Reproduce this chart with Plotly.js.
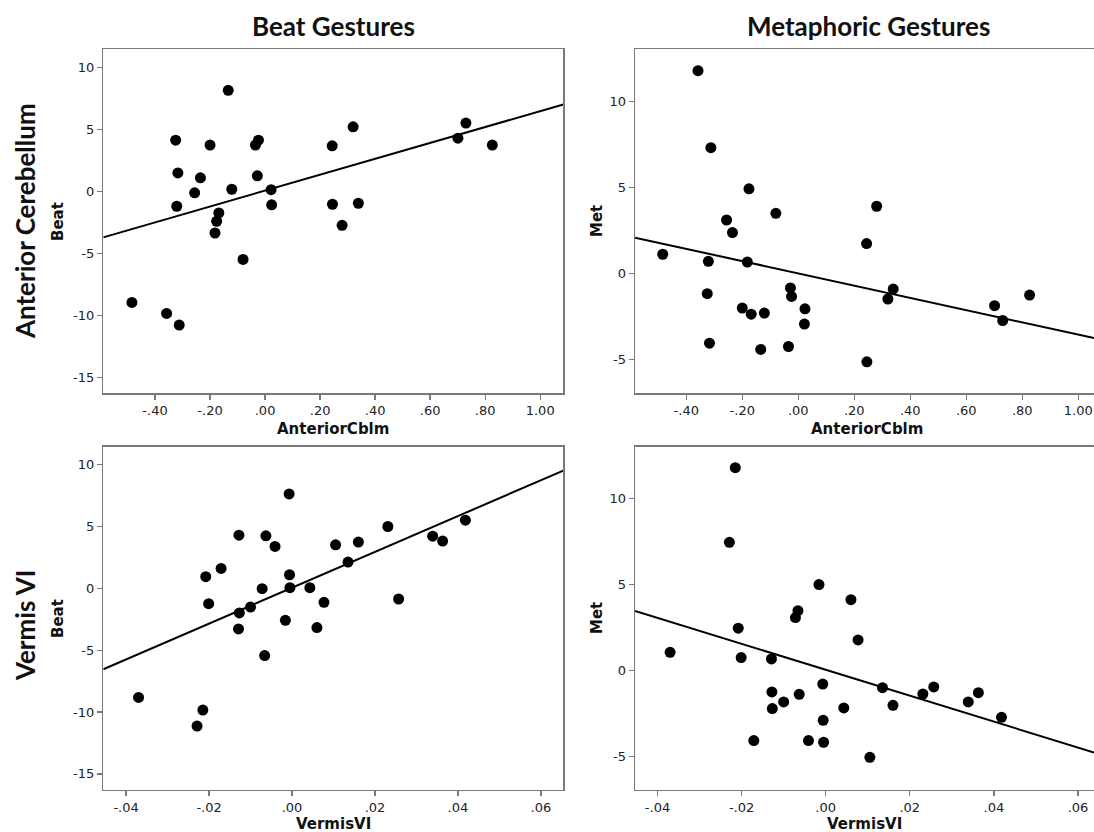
<!DOCTYPE html>
<html>
<head>
<meta charset="utf-8">
<script src="https://cdn.plot.ly/plotly-3.0.1.min.js"></script>
<style>html,body{margin:0;padding:0;background:#fff;}#chart{width:1094px;height:832px;}</style>
</head>
<body>
<div id="chart"></div>
<script>
// ---- data ----
const anteriorCblm = [-0.484,-0.358,-0.325,-0.321,-0.317,-0.312,-0.256,-0.235,-0.200,-0.182,-0.176,-0.168,-0.134,-0.121,-0.080,-0.035,-0.028,-0.024,0.022,0.024,0.244,0.245,0.280,0.320,0.339,0.701,0.730,0.826];
const beatCblm     = [-8.97,-9.86,4.12,-1.21,1.48,-10.8,-0.13,1.08,3.72,-3.37,-2.42,-1.75,8.14,0.16,-5.50,3.72,1.24,4.12,0.13,-1.10,3.66,-1.05,-2.75,5.20,-0.97,4.28,5.50,3.72];
const metCblm      = [1.11,11.78,-1.18,0.70,-4.06,7.30,3.10,2.37,-2.02,0.66,4.91,-2.37,-4.42,-2.31,3.49,-4.25,-0.85,-1.34,-2.95,-2.06,1.73,-5.14,3.90,-1.49,-0.91,-1.88,-2.74,-1.26];

const vermisVI   = [-0.0370,-0.0229,-0.0215,-0.0208,-0.0201,-0.0171,-0.0129,-0.0128,-0.0127,-0.0100,-0.0072,-0.0066,-0.0063,-0.0041,-0.0016,-0.0007,-0.0006,-0.0005,0.0043,0.0060,0.0077,0.0105,0.0135,0.0160,0.0231,0.0257,0.0339,0.0363,0.0418];
const beatVermis = [-8.82,-11.13,-9.84,0.94,-1.24,1.61,-3.28,4.30,-1.99,-1.51,-0.03,-5.43,4.25,3.39,-2.58,7.63,1.10,0.05,0.05,-3.17,-1.13,3.52,2.12,3.74,5.00,-0.86,4.22,3.82,5.51];
const metVermis  = [1.05,7.45,11.80,2.45,0.74,-4.09,0.66,-1.26,-2.23,-1.84,3.07,3.47,-1.40,-4.09,4.99,-0.80,-2.91,-4.19,-2.19,4.11,1.77,-5.07,-1.01,-2.04,-1.38,-0.97,-1.84,-1.30,-2.74];

// fit lines (intercept, slope) per panel: beat~cblm, met~cblm, beat~vermis, met~vermis
const fitIntercept = [0.05, 0.0, 0.05, 0.03];
const fitSlope     = [6.41, -3.56, 144.8, -75.5];

const cblmTickVals = [-0.4,-0.2,0,0.2,0.4,0.6,0.8,1.0];
const cblmTickText = ['-.40','-.20','.00','.20','.40','.60','.80','1.00'];
const vermisTickVals = [-0.04,-0.02,0,0.02,0.04,0.06];
const vermisTickText = ['-.04','-.02','.00','.02','.04','.06'];
const beatTickVals = [-15,-10,-5,0,5,10];
const beatTickText = ['-15','-10','-5','0','5','10'];
const metTickVals = [-5,0,5,10];
const metTickText = ['-5','0','5','10'];

const colTitles = ['Beat Gestures','Metaphoric Gestures'];
const rowTitles = ['Anterior Cerebellum','Vermis VI'];
const xTitles = ['AnteriorCblm','VermisVI'];
const yTitles = ['Beat','Met'];

// ---- layout geometry (pixels) ----
const W = 1094, H = 832;
const colPx = [[103.3, 563.3], [635, 1094]];
const rowPx = [[49.3, 393.3], [446.7, 790]];
const xRanges = [[[-0.588, 1.084], [-0.583, 1.056]], [[-0.0455, 0.0654], [-0.04535, 0.0638]]];
const yRanges = [[-16.3, 11.45], [-6.97, 13.02]];

const panels = [
  {r:0, c:0, x: anteriorCblm, y: beatCblm},
  {r:0, c:1, x: anteriorCblm, y: metCblm},
  {r:1, c:0, x: vermisVI, y: beatVermis},
  {r:1, c:1, x: vermisVI, y: metVermis}
];

const axisColor = '#7a7a7a';
const tickFont = {family: 'DejaVu Sans, sans-serif', size: 13, color: '#222'};
const traces = [];
const layout = {
  width: W, height: H,
  margin: {l:0, r:0, t:0, b:0, pad:0},
  paper_bgcolor: '#fff', plot_bgcolor: '#fff',
  showlegend: false,
  annotations: []
};

panels.forEach((p, i) => {
  const n = i + 1;
  const xa = 'x' + (n === 1 ? '' : n), ya = 'y' + (n === 1 ? '' : n);
  const xr = xRanges[p.r][p.c], yr = yRanges[p.c];
  traces.push({
    type: 'scatter', mode: 'markers', x: p.x, y: p.y, xaxis: xa, yaxis: ya,
    marker: {color: '#000', size: 11, line: {width: 0}}, hoverinfo: 'skip'
  });
  const lx = [xr[0], xr[1]];
  const ly = lx.map(v => fitIntercept[i] + fitSlope[i] * v);
  traces.push({
    type: 'scatter', mode: 'lines', x: lx, y: ly, xaxis: xa, yaxis: ya,
    line: {color: '#000', width: 2}, hoverinfo: 'skip'
  });
  const xd = [colPx[p.c][0] / W, Math.min(1, colPx[p.c][1] / W)];
  const yd = [1 - rowPx[p.r][1] / H, 1 - rowPx[p.r][0] / H];
  const xKey = 'xaxis' + (n === 1 ? '' : n), yKey = 'yaxis' + (n === 1 ? '' : n);
  layout[xKey] = {
    domain: xd, range: xr, autorange: false, anchor: ya,
    showgrid: false, zeroline: false, showline: true, mirror: true,
    linecolor: axisColor, linewidth: 1.4,
    ticks: 'outside', ticklen: 5, tickwidth: 1.3, tickcolor: axisColor,
    tickmode: 'array',
    tickvals: p.r === 0 ? cblmTickVals : vermisTickVals,
    ticktext: p.r === 0 ? cblmTickText : vermisTickText,
    tickfont: tickFont
  };
  layout[yKey] = {
    domain: yd, range: yr, autorange: false, anchor: xa,
    showgrid: false, zeroline: false, showline: true, mirror: p.c === 0,
    linecolor: axisColor, linewidth: 1.4,
    ticks: 'outside', ticklen: 5, tickwidth: 1.3, tickcolor: axisColor,
    tickmode: 'array',
    tickvals: p.c === 0 ? beatTickVals : metTickVals,
    ticktext: p.c === 0 ? beatTickText : metTickText,
    tickfont: tickFont
  };
});

const ann = (text, px, py, font, angle) => layout.annotations.push({
  text: text, xref: 'paper', yref: 'paper', x: px / W, y: 1 - py / H,
  xanchor: 'center', yanchor: 'middle', showarrow: false, textangle: angle || 0, font: font
});
const bigFont = {family: 'Lato, Open Sans, sans-serif', size: 26, color: '#111', weight: 'bold'};
const axTitleFont = {family: 'DejaVu Sans, sans-serif', size: 15, color: '#111', weight: 'bold'};

ann(colTitles[0], 333, 26, bigFont);
ann(colTitles[1], 868, 26, bigFont);
ann(rowTitles[0], 25, 221, bigFont, -90);
ann(rowTitles[1], 25, 625, bigFont, -90);
ann(xTitles[0], 333, 429, axTitleFont);
ann(xTitles[0], 867, 429, axTitleFont);
ann(xTitles[1], 333, 824, axTitleFont);
ann(xTitles[1], 864, 824, axTitleFont);
ann(yTitles[0], 58, 221, axTitleFont, -90);
ann(yTitles[1], 597, 221, axTitleFont, -90);
ann(yTitles[0], 58, 618, axTitleFont, -90);
ann(yTitles[1], 597, 618, axTitleFont, -90);

Plotly.newPlot('chart', traces, layout, {staticPlot: true, displayModeBar: false});
</script>
</body>
</html>
